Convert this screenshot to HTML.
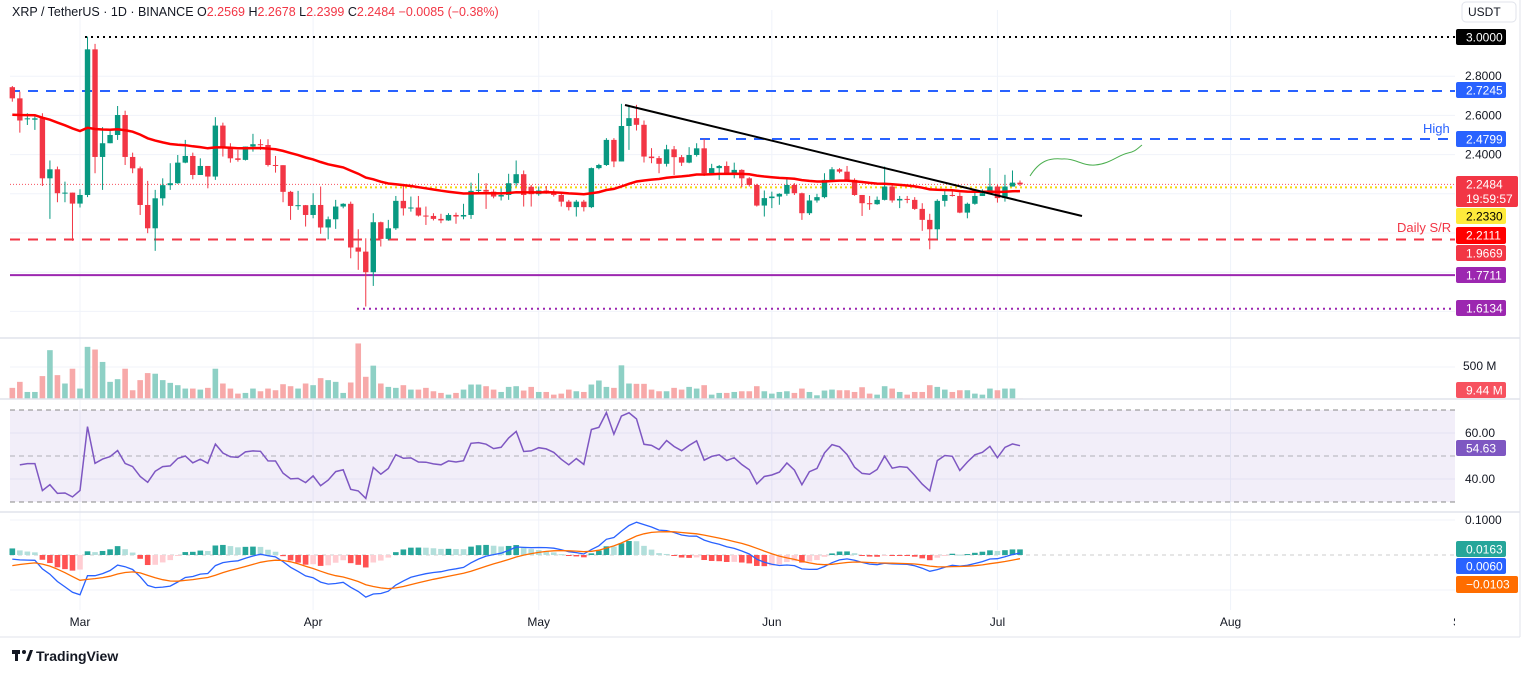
<!DOCTYPE html>
<html><head><meta charset="utf-8">
<style>
html,body{margin:0;padding:0;background:#fff;width:1536px;height:674px;overflow:hidden}
svg{display:block;font-family:"Liberation Sans",sans-serif}
</style></head>
<body>
<svg id="chart" width="1536" height="674" viewBox="0 0 1536 674">
<defs><clipPath id="plotclip"><rect x="0" y="600" width="1455" height="40"/></clipPath></defs>
<g id="grid"></g>
<g id="levels"></g>
<g id="candles"></g>
<g id="vol"></g>
<g id="rsi"></g>
<g id="macd"></g>
<g id="axes"></g>
</svg>
<script>
const opens=[2.744,2.687,2.58,2.578,2.591,2.279,2.325,2.203,2.206,2.15,2.194,2.937,2.388,2.458,2.50,2.602,2.388,2.33,2.143,2.024,2.177,2.244,2.254,2.359,2.393,2.296,2.342,2.288,2.548,2.432,2.381,2.373,2.441,2.453,2.449,2.347,2.346,2.21,2.138,2.142,2.092,2.143,2.028,2.07,2.135,2.149,1.926,1.905,1.80,2.055,1.97,2.024,2.164,2.126,2.13,2.089,2.087,2.072,2.064,2.092,2.084,2.092,2.215,2.22,2.211,2.186,2.194,2.254,2.30,2.236,2.198,2.217,2.211,2.194,2.16,2.132,2.16,2.132,2.331,2.347,2.475,2.365,2.546,2.586,2.552,2.39,2.382,2.353,2.427,2.387,2.359,2.398,2.432,2.305,2.331,2.342,2.305,2.322,2.279,2.245,2.14,2.178,2.186,2.2,2.245,2.203,2.101,2.166,2.183,2.271,2.325,2.313,2.271,2.194,2.152,2.147,2.169,2.237,2.166,2.174,2.169,2.123,2.067,2.019,2.164,2.194,2.189,2.104,2.149,2.189,2.203,2.237,2.178,2.237,2.2569];
const closes=[2.687,2.574,2.585,2.585,2.279,2.325,2.203,2.206,2.15,2.194,2.937,2.388,2.458,2.50,2.602,2.388,2.33,2.143,2.024,2.177,2.244,2.254,2.359,2.393,2.296,2.342,2.288,2.548,2.432,2.381,2.373,2.441,2.453,2.449,2.347,2.346,2.21,2.138,2.142,2.092,2.143,2.028,2.07,2.135,2.149,1.926,1.905,1.80,2.055,1.97,2.024,2.164,2.126,2.13,2.089,2.087,2.072,2.064,2.092,2.084,2.092,2.215,2.22,2.211,2.186,2.194,2.254,2.30,2.194,2.198,2.217,2.211,2.194,2.16,2.132,2.16,2.132,2.331,2.347,2.475,2.365,2.546,2.586,2.552,2.39,2.382,2.353,2.427,2.387,2.359,2.398,2.432,2.305,2.331,2.342,2.305,2.322,2.279,2.245,2.14,2.178,2.186,2.2,2.245,2.203,2.101,2.166,2.183,2.271,2.325,2.313,2.271,2.194,2.152,2.147,2.169,2.237,2.166,2.174,2.169,2.123,2.067,2.019,2.164,2.194,2.189,2.104,2.149,2.189,2.203,2.237,2.178,2.237,2.257,2.2484];
const highs=[2.75,2.721,2.611,2.602,2.611,2.37,2.339,2.262,2.206,2.223,3.002,2.965,2.54,2.526,2.648,2.624,2.41,2.339,2.266,2.22,2.279,2.356,2.398,2.475,2.41,2.381,2.342,2.591,2.563,2.458,2.424,2.441,2.506,2.478,2.478,2.393,2.346,2.215,2.215,2.143,2.203,2.237,2.084,2.169,2.152,2.16,2.019,1.973,2.101,2.058,2.067,2.189,2.245,2.186,2.189,2.135,2.101,2.098,2.101,2.104,2.149,2.257,2.305,2.254,2.223,2.228,2.302,2.37,2.319,2.245,2.237,2.24,2.223,2.2,2.169,2.169,2.169,2.334,2.353,2.484,2.484,2.659,2.645,2.654,2.574,2.433,2.393,2.45,2.444,2.398,2.438,2.458,2.48,2.353,2.347,2.365,2.359,2.325,2.285,2.251,2.217,2.211,2.203,2.285,2.254,2.206,2.194,2.2,2.305,2.336,2.331,2.342,2.279,2.194,2.189,2.186,2.339,2.245,2.189,2.189,2.183,2.152,2.098,2.172,2.22,2.223,2.206,2.155,2.223,2.223,2.331,2.245,2.297,2.319,2.2678];
const lows=[2.67,2.512,2.551,2.526,2.24,2.072,2.157,2.157,1.96,2.13,2.183,2.305,2.22,2.458,2.475,2.347,2.305,2.092,1.999,1.909,2.14,2.22,2.251,2.356,2.274,2.296,2.228,2.271,2.39,2.359,2.364,2.37,2.415,2.424,2.339,2.308,2.157,2.067,2.118,2.033,2.075,1.996,1.968,2.021,2.126,1.871,1.812,1.625,1.73,1.931,1.962,2.016,2.089,2.109,2.084,2.041,2.064,2.05,2.062,2.047,2.07,2.072,2.198,2.123,2.177,2.166,2.169,2.237,2.135,2.135,2.19,2.2,2.186,2.135,2.115,2.084,2.11,2.127,2.325,2.342,2.336,2.365,2.424,2.523,2.36,2.356,2.305,2.339,2.296,2.342,2.356,2.39,2.291,2.296,2.271,2.296,2.279,2.234,2.237,2.135,2.084,2.127,2.144,2.19,2.194,2.067,2.092,2.155,2.177,2.262,2.305,2.268,2.19,2.087,2.118,2.144,2.166,2.155,2.127,2.152,2.118,2.011,1.917,1.968,2.135,2.186,2.101,2.075,2.144,2.189,2.2,2.155,2.16,2.237,2.2399];
const volumes=[174,268,110,110,358,763,373,242,473,163,815,773,579,268,310,473,137,295,405,395,295,252,216,163,163,147,174,473,242,163,84,95,163,121,163,137,231,200,163,242,216,326,295,268,95,258,868,347,521,242,189,174,216,147,147,174,121,95,68,95,147,226,226,200,147,110,189,200,132,189,110,110,68,84,147,121,110,226,289,189,174,526,242,237,237,147,121,121,174,147,189,163,216,68,95,95,110,121,121,200,121,84,110,121,95,163,110,58,132,147,137,137,110,184,84,68,200,163,110,68,110,110,216,189,147,110,137,137,84,68,163,137,163,163,9.44];
const maStart=2.60;
const priceTicks=[2.8,2.6,2.4];
const gridPrices=[2.8,2.6,2.4,2.2,2.0,1.8,1.6];
const timeLabels=["Mar","Apr","May","Jun","Jul","Aug","Sep"];
const timeLabelIdx=[9,40,70,101,131,162,193];

const NS="http://www.w3.org/2000/svg";
function el(tag,attrs,parent,text){const e=document.createElementNS(NS,tag);for(const k in attrs)e.setAttribute(k,attrs[k]);if(text!==undefined)e.textContent=text;parent.appendChild(e);return e;}
const X=i=>80+(i-9)*7.52;
const Y=p=>37+(3-p)*196;
const VY=v=>399-v*32/500;
const RY=r=>456-(r-50)*2.3;
const MY=m=>555-m*350;
const G=document.getElementById('grid'),L=document.getElementById('levels'),C=document.getElementById('candles'),V=document.getElementById('vol'),R=document.getElementById('rsi'),M=document.getElementById('macd'),A=document.getElementById('axes');
const GREEN="#089981",RED="#f23645";

gridPrices.forEach(p=>{const l=el('line',{x1:10,x2:1455,y1:Y(p),y2:Y(p),stroke:'#f0f3fa'},G);});
timeLabelIdx.forEach(i=>{const x=X(i);if(x<1455){const l=el('line',{x1:x,x2:x,y1:10,y2:610,stroke:'#f0f3fa'},G);}});
[367,433,479,520,590].forEach(y=>{const l=el('line',{x1:10,x2:1455,y1:y,y2:y,stroke:'#f0f3fa'},G);});

function hline(x1,x2,p,color,dash,w,name){const l=el('line',{x1:x1,x2:x2,y1:Y(p),y2:Y(p),stroke:color,'stroke-width':w||1.5,'stroke-dasharray':dash||'none'},L);}
hline(85,1455,3.0,'#000','2,4',2,'ath-level-3-0000');
hline(10,1455,2.7245,'#2962ff','10,8',2,'resistance-2-7245');
hline(700,1455,2.4799,'#2962ff','10,8',2,'high-2-4799');
hline(340,1455,2.233,'#f5d90a','2,3',2,'yellow-level-2-2330');
hline(10,1455,2.2484,'#f7525f','1,2',1,'current-price-line');
hline(10,1455,1.9669,'#f23645','10,8',2,'daily-support-1-9669');
hline(10,1455,1.785,'#9c27b0','none',2,'support-1-7711');
hline(357,1455,1.6134,'#9c27b0','2,4',2,'low-1-6134');
let t=el('text',{x:1423,y:133,fill:'#2962ff','font-size':13},L,'High');
t=el('text',{x:1397,y:232,fill:'#f23645','font-size':13},L,'Daily S/R');

for(let i=0;i<closes.length;i++){
  const up=closes[i]>=opens[i],col=up?GREEN:RED,x=X(i);
  const h=Math.max(highs[i],opens[i],closes[i]),lo=Math.min(lows[i],opens[i],closes[i]);
  const w=el('line',{x1:x,x2:x,y1:Y(h),y2:Y(lo),stroke:col,'stroke-width':1},C);
  
  const top=Y(Math.max(opens[i],closes[i])),bh=Math.max(1,Math.abs(Y(opens[i])-Y(closes[i])));
  const b=el('rect',{x:x-2.7,y:top,width:5.4,height:bh,fill:col},C);
  
}
let ema=maStart,pts=[];const k50=2/51;
closes.forEach((c,i)=>{ema=c*k50+ema*(1-k50);pts.push(X(i).toFixed(1)+','+Y(ema).toFixed(1));});
const ma=el('polyline',{points:pts.join(' '),fill:'none',stroke:'#ff0000','stroke-width':2.5},C);

const tl=el('line',{x1:625,y1:105,x2:1082,y2:216,stroke:'#000','stroke-width':2},C);

const pj=el('path',{d:'M1030,176 C1040,160 1050,158 1062,159 C1075,158 1082,166 1095,165 C1110,164 1118,155 1128,153 C1135,152 1138,148 1142,145',fill:'none',stroke:'#4caf50','stroke-width':1},C);


volumes.forEach((v,i)=>{const up=closes[i]>=opens[i];const r=el('rect',{x:X(i)-2.8,y:VY(v),width:5.6,height:399-VY(v),fill:up?'#8ed0c5':'#f7a9a9'},V);
});

const band=el('rect',{x:10,y:RY(70),width:1445,height:RY(30)-RY(70),fill:'rgba(126,87,194,0.1)'},R);
[70,50,30].forEach(v=>{const l=el('line',{x1:10,x2:1455,y1:RY(v),y2:RY(v),stroke:v==50?'#b0b0b8':'#888','stroke-dasharray':'5,4'},R);});
let ag=0.04,al=0.038,rp=[];
for(let i=1;i<closes.length;i++){const d=closes[i]-closes[i-1];ag=(ag*13+Math.max(d,0))/14;al=(al*13+Math.max(-d,0))/14;const rsi=100-100/(1+ag/al);rp.push(X(i).toFixed(1)+','+RY(rsi).toFixed(1));}
const rl=el('polyline',{points:rp.join(' '),fill:'none',stroke:'#7e57c2','stroke-width':1.5},R);

let e12=2.60,e26=2.62,sig=-0.035,mp=[],sp=[],prevH=0;
const zl=el('line',{x1:10,x2:1455,y1:MY(0),y2:MY(0),stroke:'#ccc','stroke-dasharray':'4,4'},M);
closes.forEach((c,i)=>{e12=c*2/13+e12*11/13;e26=c*2/27+e26*25/27;const m=e12-e26;sig=m*0.2+sig*0.8;const h=m-sig;
  const col=h>=0?(h>=prevH?'#26a69a':'#b2dfdb'):(h<prevH?'#ff5252':'#ffcdd2');prevH=h;
  const y1=Math.min(MY(0),MY(h)),hh=Math.max(1,Math.abs(MY(h)-MY(0)));
  const r=el('rect',{x:X(i)-2.8,y:y1,width:5.6,height:hh,fill:col},M);
  mp.push(X(i).toFixed(1)+','+MY(m).toFixed(1));sp.push(X(i).toFixed(1)+','+MY(sig).toFixed(1));});
let ml=el('polyline',{points:mp.join(' '),fill:'none',stroke:'#2962ff','stroke-width':1.3},M);
ml=el('polyline',{points:sp.join(' '),fill:'none',stroke:'#ff6d00','stroke-width':1.3},M);

[338,399,512].forEach(y=>{const l=el('line',{x1:0,x2:1520,y1:y,y2:y,stroke:'#e0e3eb','stroke-width':1.5},A);});
let bl=el('line',{x1:0,x2:1520,y1:637,y2:637,stroke:'#e0e3eb'},A);
bl=el('line',{x1:1520,x2:1520,y1:0,y2:637,stroke:'#e0e3eb'},A);

priceTicks.forEach(p=>{const tx=el('text',{x:1465,y:Y(p)+4,'font-size':12,fill:'#131722'},A,p.toFixed(4));});
const tg=el('g',{'clip-path':'url(#plotclip)'},A);
timeLabels.forEach((s,j)=>{const tx=el('text',{x:X(timeLabelIdx[j]),y:626,'font-size':12,fill:'#131722','text-anchor':'middle'},tg,s);});
[['500 M',1463,370],['60.00',1465,437],['40.00',1465,483],['0.1000',1465,524]].forEach(a=>{const tx=el('text',{x:a[1],y:a[2],'font-size':12,fill:'#131722'},A,a[0]);});
function badge(y,h,bg,fg,txt,name,txt2,wd){const r=el('rect',{x:1456,y:y,width:wd||(txt.length>6?62:50),height:h,rx:2,fill:bg},A);
 const tx=el('text',{x:1466,y:y+12.5,'font-size':12,fill:fg},A,txt);
 if(txt2){const t2=el('text',{x:1466,y:y+27,'font-size':12,fill:fg},A,txt2);}}
badge(29,16,'#000','#fff','3.0000','label-3-0000');
badge(82,16,'#2962ff','#fff','2.7245','label-2-7245');
badge(131,16,'#2962ff','#fff','2.4799','label-2-4799');
badge(176,31,'#f23645','#fff','2.2484','label-last-price','19:59:57',62);
badge(208,16,'#ffeb3b','#000','2.2330','label-2-2330');
badge(227,17,'#ff0000','#fff','2.2111','label-2-2111');
badge(245,16,'#f23645','#fff','1.9669','label-1-9669');
badge(267,16,'#9c27b0','#fff','1.7711','label-1-7711');
badge(300,16,'#9c27b0','#fff','1.6134','label-1-6134');
badge(382,16,'#f7525f','#fff','9.44 M','label-volume');
badge(440,16,'#7e57c2','#fff','54.63','label-rsi');
badge(541,16,'#26a69a','#fff','0.0163','label-macd-hist');
badge(558,16,'#2962ff','#fff','0.0060','label-macd');
badge(576,17,'#ff6d00','#fff','\u22120.0103','label-signal');

const hd=el('text',{x:12,y:16,'font-size':12.5,fill:'#131722'},A);
hd.innerHTML='XRP / TetherUS · 1D · BINANCE  O<tspan fill="#f23645">2.2569</tspan> H<tspan fill="#f23645">2.2678</tspan> L<tspan fill="#f23645">2.2399</tspan> C<tspan fill="#f23645">2.2484 −0.0085 (−0.38%)</tspan>';
const ub=el('rect',{x:1462,y:2,width:54,height:20,rx:4,fill:'#fff',stroke:'#e0e3eb'},A);
t=el('text',{x:1468,y:16,'font-size':12,fill:'#131722'},A,'USDT');
const lg=el('g',{},A);
el('rect',{x:12,y:650,width:8,height:4,fill:'#131722'},lg);el('rect',{x:15,y:650,width:3,height:11,fill:'#131722'},lg);el('circle',{cx:24,cy:652,r:2,fill:'#131722'},lg);el('path',{d:'M26,661 L30,650 L33,650 L29,661 Z',fill:'#131722'},lg);
t=el('text',{x:36,y:661,'font-size':14,'font-weight':'bold',fill:'#131722'},lg,'TradingView');
</script>
</body></html>
